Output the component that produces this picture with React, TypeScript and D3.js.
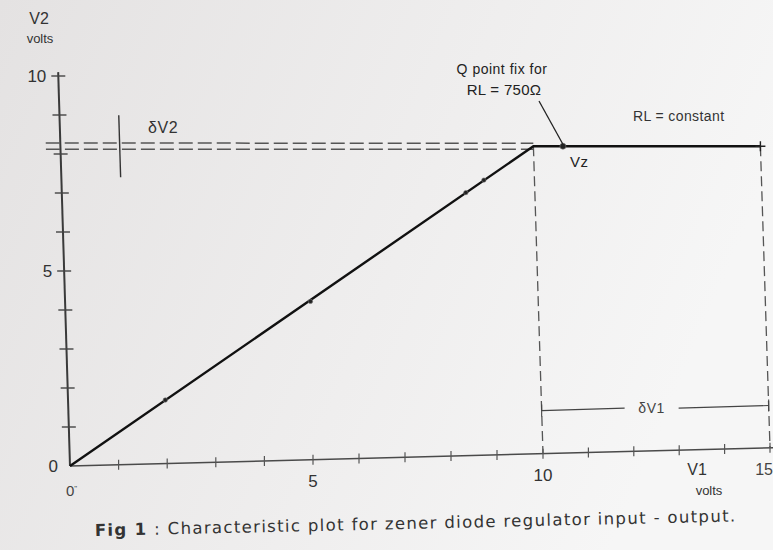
import * as d3 from "d3";

// axis ticks (one per volt)
const xTickValues = [1, 2, 3, 4, 5, 6, 7, 8, 9, 10, 11, 12, 13, 14, 15];
const yTickValues = [1, 2, 3, 4, 5, 6, 7, 8, 9, 10];
const xLabels = [5, 10];
const yLabels = [0, 5, 10];

// characteristic V2 vs V1
const vz = 8.2;
const curve: [number, number][] = [
	[0, 0],
	[10, 8.2],
	[15, 8.2],
];
const markers: [number, number][] = [
	[2.0, 1.64],
	[5.05, 4.14],
	[8.5, 6.97],
	[8.9, 7.3],
	[10.65, 8.2],
];

const W = 773;
const H = 550;
const ox = 70;
const oy = 466;

// hand-drawn axis: tick spacing is not quite even
const xs = d3.scaleLinear().domain([0, 5, 10, 15]).range([0, 243, 473, 700]);
const ys = d3.scaleLinear().domain([0, 10]).range([0, 390]);

// the scan is warped a little: y axis leans left, x axis climbs to the right
const pt = (u: number, v: number): [number, number] => {
	const X = xs(u);
	const Y = ys(v);
	return [ox + X - 0.03 * Y, oy - Y - 0.026 * X * (1 - v / vz)];
};

const line = d3
	.line<[number, number]>()
	.x((d) => pt(d[0], d[1])[0])
	.y((d) => pt(d[0], d[1])[1]);

const font = "'Liberation Sans', Arial, sans-serif";

export default function App() {
	const [qx, qy] = pt(10.65, vz);
	return (
		<svg width={W} height={H} style={{ display: "block", position: "absolute", left: 0, top: 0 }}>
			<defs>
				<linearGradient id="paper" x1="0" x2="1" y1="0" y2="0.3">
					<stop offset="0" stopColor="#e4e2e2" />
					<stop offset="0.6" stopColor="#efeeee" />
					<stop offset="1" stopColor="#f6f6f6" />
				</linearGradient>
			</defs>
			<rect width={W} height={H} fill="url(#paper)" />

			{/* axes */}
			<path d={line([[0, 0], [15.2, 0]]) ?? ""} stroke="#4a4a4a" strokeWidth={1.5} fill="none" />
			<path d={line([[0, 0], [0, 10.1]]) ?? ""} stroke="#3a3a3a" strokeWidth={2} fill="none" />

			{xTickValues.map((t) => {
				const [x, y] = pt(t, 0);
				return <line key={"xt" + t} x1={x} x2={x} y1={y - 5} y2={y + 5} stroke="#555" strokeWidth={1.2} />;
			})}
			{yTickValues.map((t) => {
				const [x, y] = pt(0, t);
				return <line key={"yt" + t} x1={x - 7} x2={x + 7} y1={y} y2={y} stroke="#444" strokeWidth={1.4} />;
			})}

			{xLabels.map((t) => {
				const [x, y] = pt(t, 0);
				return (
					<text key={"xl" + t} x={x} y={y + 27} textAnchor="middle" fontFamily={font} fontSize={17} fill="#333">
						{t}
					</text>
				);
			})}
			<text x={773} y={475} textAnchor="end" fontFamily={font} fontSize={16} fill="#444">15</text>
			{yLabels.map((t) => {
				const [x, y] = pt(0, t);
				return (
					<text key={"yl" + t} x={x - 12} y={y + 6} textAnchor="end" fontFamily={font} fontSize={17} fill="#333">
						{t}
					</text>
				);
			})}
			<text x={66} y={496} fontFamily={font} fontSize={15} fill="#444">
				0<tspan fontSize={8} dy={-5}>"</tspan>
			</text>

			{/* axis titles */}
			<text x={39} y={24} textAnchor="middle" fontFamily={font} fontSize={16} fill="#333">V2</text>
			<text x={40} y={43} textAnchor="middle" fontFamily={font} fontSize={13} fill="#333">volts</text>
			<text x={697} y={475} textAnchor="middle" fontFamily={font} fontSize={16} fill="#333">V1</text>
			<text x={709} y={495} textAnchor="middle" fontFamily={font} fontSize={13} fill="#333">volts</text>

			{/* double dashed Vz level */}
			{[-0.08, 0.08].map((dv) => (
				<path
					key={"dz" + dv}
					d={line([[-0.3, vz + dv], [10, vz + dv]]) ?? ""}
					stroke="#555"
					strokeWidth={1.5}
					strokeDasharray="14 5"
					fill="none"
				/>
			))}

			{/* dashed drops at 10 and 15 */}
			{[10, 15].map((u) => (
				<path
					key={"dv" + u}
					d={line([[u, vz], [u, 0]]) ?? ""}
					stroke="#555"
					strokeWidth={1.3}
					strokeDasharray="10 5"
					fill="none"
				/>
			))}

			{/* δV2 marker */}
			{(() => {
				const [x1, y1] = pt(1.22, 9.0);
				const [x2, y2] = pt(1.22, 7.4);
				const [lx, ly] = pt(1.75, 8.55);
				return (
					<g>
						<line x1={x1} y1={y1} x2={x2} y2={y2} stroke="#333" strokeWidth={1.4} />
						<text x={lx + 3} y={ly} fontFamily={font} fontSize={16} letterSpacing={0.6} fill="#333">δV2</text>
					</g>
				);
			})()}

			{/* δV1 span */}
			{(() => {
				const [ax, ay] = pt(10, 1.15);
				const [bx, by] = pt(15, 1.15);
				const [mx, my] = pt(12.4, 1.15);
				return (
					<g>
						<line x1={ax} y1={ay} x2={mx - 26} y2={my} stroke="#444" strokeWidth={1.1} />
						<line x1={mx + 28} y1={my} x2={bx} y2={by} stroke="#444" strokeWidth={1.1} />
						<line x1={ax} y1={ay - 6} x2={ax} y2={ay + 6} stroke="#444" strokeWidth={1.1} />
						<line x1={bx} y1={by - 6} x2={bx} y2={by + 6} stroke="#444" strokeWidth={1.1} />
						<text x={mx + 1} y={my + 5} textAnchor="middle" fontFamily={font} fontSize={14} letterSpacing={0.6} fill="#444">δV1</text>
					</g>
				);
			})()}

			{/* characteristic */}
			<path d={line(curve) ?? ""} stroke="#111" strokeWidth={2.4} fill="none" />
			{markers.map(([u, v], i) => {
				const [x, y] = pt(u, v);
				return <circle key={"m" + i} cx={x} cy={y} r={i === markers.length - 1 ? 3 : 2.2} fill="#222" stroke="#777" strokeWidth={0.6} />;
			})}
			{(() => {
				const [x, y] = pt(15, vz);
				return <path d={`M${x - 5},${y}h10M${x},${y - 5}v10`} stroke="#222" strokeWidth={1.4} />;
			})()}

			{/* annotations */}
			<text x={502} y={74} textAnchor="middle" fontFamily={font} fontSize={14} letterSpacing={0.5} fill="#222">Q point fix for</text>
			<text x={504} y={95} textAnchor="middle" fontFamily={font} fontSize={15} letterSpacing={0.3} fill="#222">RL = 750Ω</text>
			<line x1={539} y1={101} x2={qx} y2={qy - 2} stroke="#222" strokeWidth={1.3} />
			<text x={633} y={121} fontFamily={font} fontSize={14} letterSpacing={0.4} fill="#333">RL = constant</text>
			<text x={570} y={167} fontFamily={font} fontSize={15} letterSpacing={0.6} fill="#222">Vz</text>

			{/* caption */}
			<text
				x={95}
				y={536}
				transform="rotate(-1.3 95 536)"
				fontFamily="'DejaVu Sans', Verdana, sans-serif"
				fontSize={16.5}
				letterSpacing={1.35}
				fill="#333"
			>
				<tspan fontWeight="bold">Fig 1</tspan> : Characteristic plot for zener diode regulator input - output.
			</text>
		</svg>
	);
}
